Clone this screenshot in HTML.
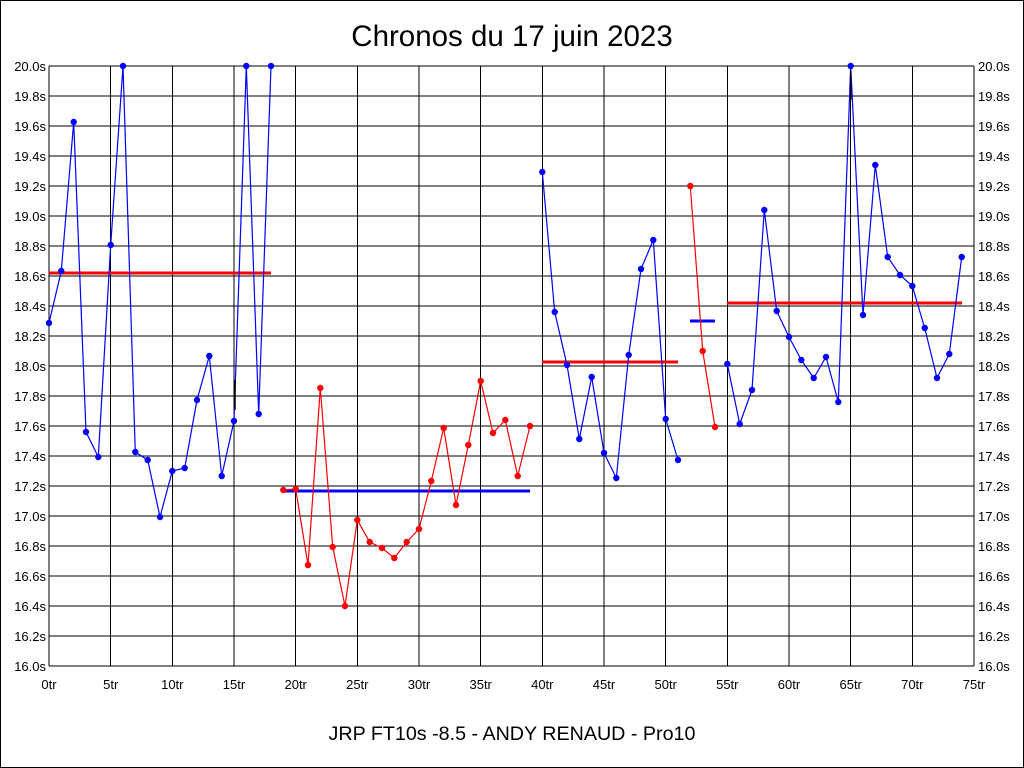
<!DOCTYPE html>
<html><head><meta charset="utf-8"><style>
html,body{margin:0;padding:0;background:#fff}
svg{display:block}
text{font-family:"Liberation Sans",sans-serif;fill:#000}
</style></head><body>
<svg width="1024" height="768" viewBox="0 0 1024 768" xmlns="http://www.w3.org/2000/svg">
<defs>
<marker id="mb" markerWidth="8" markerHeight="8" refX="4" refY="4" markerUnits="userSpaceOnUse"><circle cx="4" cy="4" r="3.2" fill="#0000ff"/></marker>
<marker id="mr" markerWidth="8" markerHeight="8" refX="4" refY="4" markerUnits="userSpaceOnUse"><circle cx="4" cy="4" r="3.2" fill="#ff0000"/></marker>
</defs>
<rect x="0.5" y="0.5" width="1023" height="767" fill="#fff" stroke="#000"/>
<text x="512" y="46" font-size="29.5" text-anchor="middle">Chronos du 17 juin 2023</text>
<text x="512" y="740" font-size="19.7" text-anchor="middle">JRP FT10s -8.5 - ANDY RENAUD - Pro10</text>
<g stroke="#000" stroke-width="1" shape-rendering="crispEdges">
<path d="M49 66H974M49 96H974M49 126H974M49 156H974M49 186H974M49 216H974M49 246H974M49 276H974M49 306H974M49 336H974M49 366H974M49 396H974M49 426H974M49 456H974M49 486H974M49 516H974M49 546H974M49 576H974M49 606H974M49 636H974M49 666H974"/>
<path d="M49 66V666M110.7 66V666M172.3 66V666M234 66V666M295.7 66V666M357.3 66V666M419 66V666M480.7 66V666M542.3 66V666M604 66V666M665.7 66V666M727.3 66V666M789 66V666M850.7 66V666M912.3 66V666M974 66V666"/>
</g>
<g font-size="13" text-anchor="end">
<text x="46" y="71">20.0s</text><text x="46" y="101">19.8s</text><text x="46" y="131">19.6s</text><text x="46" y="161">19.4s</text><text x="46" y="191">19.2s</text><text x="46" y="221">19.0s</text><text x="46" y="251">18.8s</text><text x="46" y="281">18.6s</text><text x="46" y="311">18.4s</text><text x="46" y="341">18.2s</text><text x="46" y="371">18.0s</text><text x="46" y="401">17.8s</text><text x="46" y="431">17.6s</text><text x="46" y="461">17.4s</text><text x="46" y="491">17.2s</text><text x="46" y="521">17.0s</text><text x="46" y="551">16.8s</text><text x="46" y="581">16.6s</text><text x="46" y="611">16.4s</text><text x="46" y="641">16.2s</text><text x="46" y="671">16.0s</text>
</g>
<g font-size="13">
<text x="978" y="71">20.0s</text><text x="978" y="101">19.8s</text><text x="978" y="131">19.6s</text><text x="978" y="161">19.4s</text><text x="978" y="191">19.2s</text><text x="978" y="221">19.0s</text><text x="978" y="251">18.8s</text><text x="978" y="281">18.6s</text><text x="978" y="311">18.4s</text><text x="978" y="341">18.2s</text><text x="978" y="371">18.0s</text><text x="978" y="401">17.8s</text><text x="978" y="431">17.6s</text><text x="978" y="461">17.4s</text><text x="978" y="491">17.2s</text><text x="978" y="521">17.0s</text><text x="978" y="551">16.8s</text><text x="978" y="581">16.6s</text><text x="978" y="611">16.4s</text><text x="978" y="641">16.2s</text><text x="978" y="671">16.0s</text>
</g>
<g font-size="13" text-anchor="middle">
<text x="49" y="689">0tr</text><text x="110.7" y="689">5tr</text><text x="172.3" y="689">10tr</text><text x="234" y="689">15tr</text><text x="295.7" y="689">20tr</text><text x="357.3" y="689">25tr</text><text x="419" y="689">30tr</text><text x="480.7" y="689">35tr</text><text x="542.3" y="689">40tr</text><text x="604" y="689">45tr</text><text x="665.7" y="689">50tr</text><text x="727.3" y="689">55tr</text><text x="789" y="689">60tr</text><text x="850.7" y="689">65tr</text><text x="912.3" y="689">70tr</text><text x="974" y="689">75tr</text>
</g>
<g stroke-width="3">
<line x1="49" y1="273" x2="271" y2="273" stroke="#ff0000"/>
<line x1="284" y1="491" x2="530" y2="491" stroke="#0000ff"/>
<line x1="542" y1="362" x2="678" y2="362" stroke="#ff0000"/>
<line x1="690" y1="321" x2="715" y2="321" stroke="#0000ff"/>
<line x1="727" y1="303" x2="962" y2="303" stroke="#ff0000"/>
</g>
<g fill="none" stroke-width="1.2">
<polyline stroke="#0000ff" marker-start="url(#mb)" marker-mid="url(#mb)" marker-end="url(#mb)" points="49,323 61.3,271 73.7,122 86,432 98.3,457 110.7,245 123,66 135.3,452 147.7,460 160,517 172.3,471 184.7,468 197,400 209.3,356 221.7,476 234,421 246.3,66 258.7,414 271,66"/>
<polyline stroke="#ff0000" marker-start="url(#mr)" marker-mid="url(#mr)" marker-end="url(#mr)" points="283.3,490 295.7,489 308,565 320.3,388 332.7,547 345,606 357.3,520 369.7,542 382,548 394.3,558 406.7,542 419,529 431.3,481 443.7,428 456,505 468.3,445 480.7,381 493,433 505.3,420 517.7,476 530,426"/>
<polyline stroke="#0000ff" marker-start="url(#mb)" marker-mid="url(#mb)" marker-end="url(#mb)" points="542.3,172 554.7,312 567,365 579.3,439 591.7,377 604,453 616.3,478 628.7,355 641,269 653.3,240 665.7,419 678,460"/>
<polyline stroke="#ff0000" marker-start="url(#mr)" marker-mid="url(#mr)" marker-end="url(#mr)" points="690.3,186 702.7,351 715,427"/>
<polyline stroke="#0000ff" marker-start="url(#mb)" marker-mid="url(#mb)" marker-end="url(#mb)" points="727.3,364 739.7,424 752,390 764.3,210 776.7,311 789,337 801.3,360 813.7,378 826,357 838.3,402 850.7,66 863,315 875.3,165 887.7,257 900,275 912.3,286 924.7,328 937,378 949.3,354 961.7,257"/>
</g>
<g stroke="#000" stroke-width="1.5">
<line x1="235" y1="380" x2="235" y2="410"/>
<line x1="850.7" y1="70" x2="850.7" y2="100"/>
</g>
</svg>
</body></html>
